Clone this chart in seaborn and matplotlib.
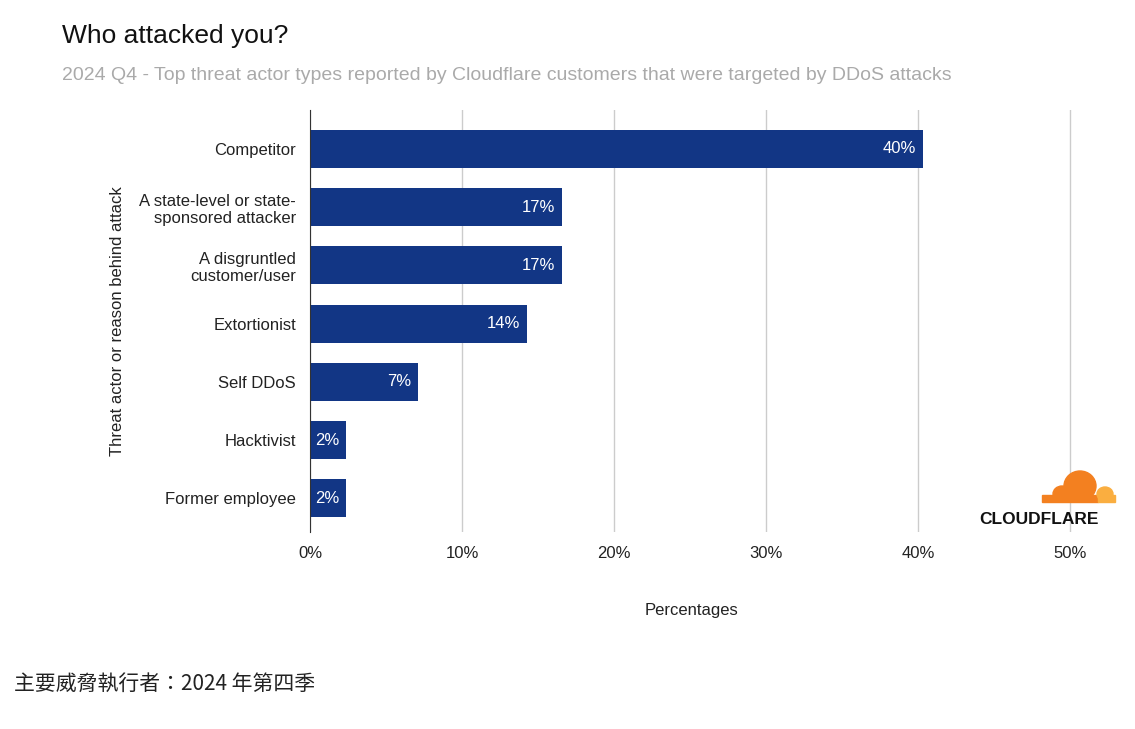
import matplotlib
matplotlib.use("Agg")
import matplotlib.pyplot as plt
import seaborn as sns
import pandas as pd
from matplotlib.patches import Ellipse, Rectangle

plt.rcParams["font.family"] = "Liberation Sans"

categories = ["Competitor", "A state-level or state-\nsponsored attacker", "A disgruntled\ncustomer/user",
              "Extortionist", "Self DDoS", "Hacktivist", "Former employee"]
values = [40.3, 16.6, 16.6, 14.3, 7.1, 2.4, 2.4]
labels = ["40%", "17%", "17%", "14%", "7%", "2%", "2%"]
xticks = [0, 10, 20, 30, 40, 50]

df = pd.DataFrame({"cat": categories, "val": values})
W, H = 1135, 729
fig = plt.figure(figsize=(W/100, H/100), dpi=100)
ax = fig.add_axes([310/W, 1-532/H, (1072-310)/W, (532-110)/H])
sns.barplot(data=df, x="val", y="cat", color="#123685", saturation=1, width=0.65, ax=ax)
for p in ax.patches:
    p.set_edgecolor("none")
ax.set_xlim(0, 50.13)
ax.set_ylim(6.58, -0.67)
ax.set_xticks(xticks)
ax.set_xticklabels([f"{t}%" for t in xticks], fontsize=12, color="#222")
ax.xaxis.grid(True, color="#cccccc", lw=1)
ax.set_axisbelow(True)
for s in ["top", "right", "bottom"]:
    ax.spines[s].set_visible(False)
ax.spines["left"].set_color("#333")
ax.tick_params(length=0, pad=10)
ax.tick_params(axis="y", labelsize=12, labelcolor="#222")
ax.set_xlabel("Percentages", fontsize=12, labelpad=30, color="#222")
ax.set_ylabel("Threat actor or reason behind attack", fontsize=12, color="#222", labelpad=10)
for i, (v, l) in enumerate(zip(values, labels)):
    ax.text(v - 0.45, i, l, color="white", ha="right", va="center", fontsize=12)

fig.text(62/W, 1-36/H, "Who attacked you?", fontsize=19, color="#111", va="center")
fig.text(62/W, 1-76/H, "2024 Q4 - Top threat actor types reported by Cloudflare customers that were targeted by DDoS attacks",
         fontsize=14, color="#aaaaaa", va="center")
fig.text(14/W, 1-684/H, "主要威脅執行者：2024 年第四季", fontsize=15, style="italic",
         fontfamily="Noto Sans CJK TC", color="#222", va="center")

# Cloudflare logo
lx = fig.add_axes([958/W, 1-530/H, 162/W, 62/H])
lx.set_xlim(0, 162); lx.set_ylim(0, 62); lx.axis("off")
lx.add_patch(Ellipse((122, 44), 32, 30, color="#f38020"))
lx.add_patch(Ellipse((104, 36), 18, 16, color="#f38020"))
lx.add_patch(Rectangle((84, 28), 56, 7, color="#f38020"))
lx.add_patch(Ellipse((147, 36), 16, 14, color="#faae40"))
lx.add_patch(Rectangle((140, 28), 17, 7, color="#faae40"))
lx.text(81, 11, "CLOUDFLARE", ha="center", va="center", fontsize=12.5, fontweight="bold", color="#111")

fig.savefig("out.png", dpi=100, facecolor="white")
